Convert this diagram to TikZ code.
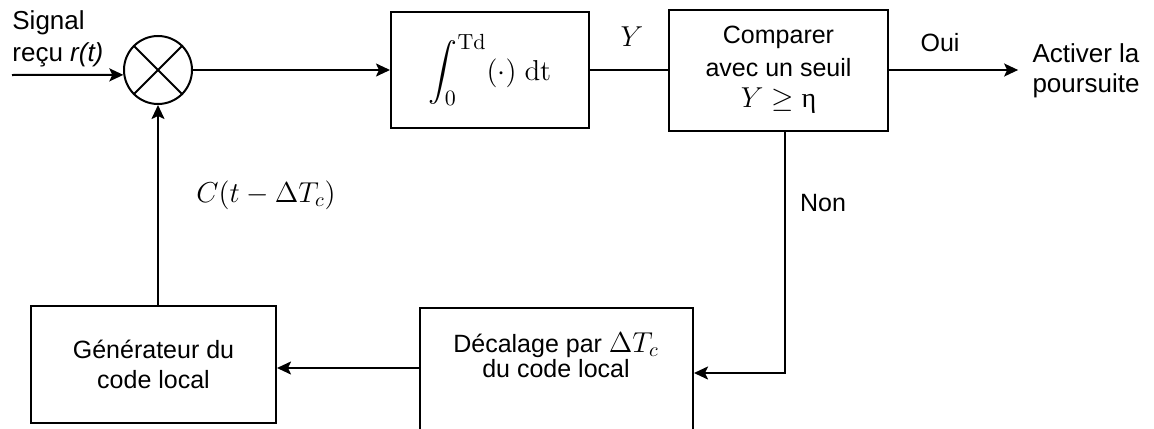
\documentclass[tikz,border=0pt]{standalone}
\usepackage{amsmath}
\usepackage[no-math]{fontspec}
\setmainfont{Liberation Sans}
\newfontfamily\grk{Liberation Serif}
\usetikzlibrary{arrows.meta}
\begin{document}
\begin{tikzpicture}[x=0.5pt,y=-0.5pt,
  box/.style={draw,line width=1pt,rectangle,inner sep=0pt},
  arr/.style={line width=1pt,-{Stealth[length=7pt,width=6.5pt,inset=1.5pt]}},
  ln/.style={line width=1pt},
  lbl/.style={font=\fontsize{13}{16}\selectfont,inner sep=0pt},
  mth/.style={font=\fontsize{14}{17}\selectfont,inner sep=0pt}]
\useasboundingbox (0,0) rectangle (1154,428);
\clip (0,0) rectangle (1154,428);
% blocks
\node[draw,circle,line width=1pt,minimum size=34pt,inner sep=0pt] (mix) at (158,70) {};
\draw[ln] (mix.north west) -- (mix.south east) (mix.north east) -- (mix.south west);
\node[box,minimum width=99pt,minimum height=58pt,font=\fontsize{15}{18}\selectfont] (integ) at (490,70) {$\displaystyle\int_0^{\mathrm{Td}}(\cdot)\;\mathrm{dt}$};
\node[box,minimum width=109.5pt,minimum height=60.5pt,align=center,font=\fontsize{12.5}{16.5}\selectfont] (comp) at (778.5,70) {Comparer\\avec un seuil\\[-1pt]{\fontsize{14}{16}\selectfont$Y \geq$ {\grk η}}};
\node[box,minimum width=122.5pt,minimum height=58.5pt,align=center,font=\fontsize{12.5}{15}\selectfont] (gen) at (153.5,364.5) {Générateur du\\code local};
\node[box,minimum width=136.5pt,minimum height=75pt,anchor=north] (dec) at (556.5,307) {};
\node[align=center,inner sep=0pt,font=\fontsize{12.5}{12.5}\selectfont] (dect) at (556,355) {Décalage par {\fontsize{14}{14}\selectfont$\Delta T_c$}\\du code local};
% labels
\node[lbl,align=left,anchor=west] (sig) at (12,39) {Signal\\reçu \textit{r(t)}};
\node[mth] (ylab) at (632,37) {$Y$};
\node[lbl,font=\fontsize{12.5}{15}\selectfont] (oui) at (940,43) {Oui};
\node[lbl,align=center,inner xsep=7pt,font=\fontsize{13}{15}\selectfont] (activ) at (1086,71) {Activer la\\poursuite};
\node[lbl,font=\fontsize{12.5}{15}\selectfont] (non) at (823,203) {Non};
\node[mth] (clab) at (266,195) {$C(t-\Delta T_c)$};
% connectors
\coordinate (in) at (12,75);
\coordinate (c1) at (785,373);
\coordinate (g) at (0,368);
\draw[arr] (in) -- (mix.188.5);
\draw[arr] (mix.east) -- (integ.west);
\draw[ln] (integ.east) -- (comp.west);
\draw[arr] (comp.east) -- (comp.east -| activ.west);
\draw[arr] (comp.south -| c1) -- (c1) -- (dec.east |- c1);
\draw[arr] (dec.west |- g) -- (gen.east |- g);
\draw[arr] (mix.south |- gen.north) -- (mix.south);
\end{tikzpicture}
\end{document}
